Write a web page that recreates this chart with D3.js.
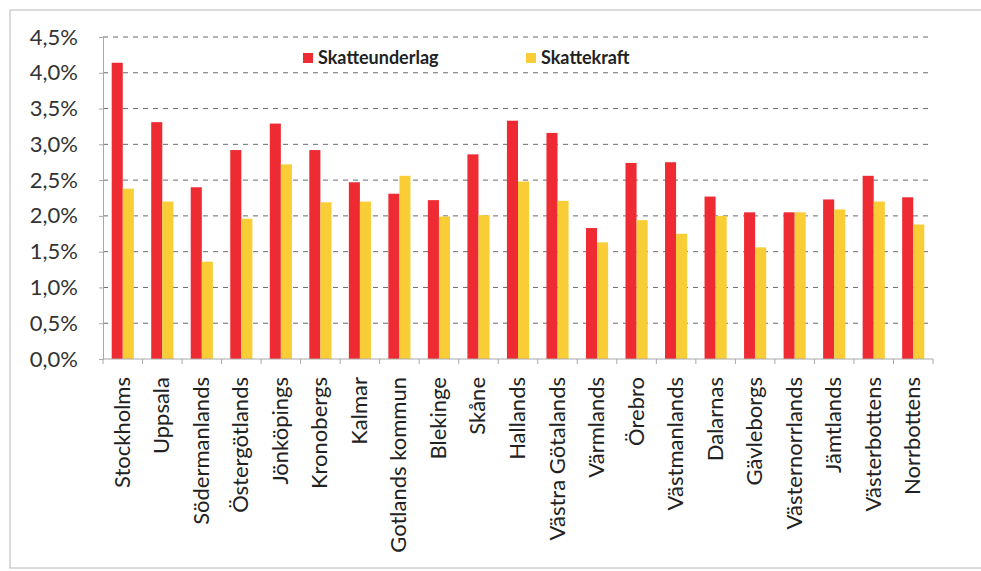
<!DOCTYPE html>
<html>
<head>
<meta charset="utf-8">
<script src="https://cdn.jsdelivr.net/npm/d3@7"></script>
<style>
  body { margin: 0; background: #fff; }
  text { font-family: Lato, "Open Sans", sans-serif; }
</style>
</head>
<body>
<div id="chart"></div>
<script>
// counties and the two series (percent)
var lan = ["Stockholms", "Uppsala", "Södermanlands", "Östergötlands", "Jönköpings",
  "Kronobergs", "Kalmar", "Gotlands kommun", "Blekinge", "Skåne", "Hallands",
  "Västra Götalands", "Värmlands", "Örebro", "Västmanlands", "Dalarnas",
  "Gävleborgs", "Västernorrlands", "Jämtlands", "Västerbottens", "Norrbottens"];
var skatteunderlag = [4.14, 3.31, 2.40, 2.92, 3.29, 2.92, 2.47, 2.31, 2.22, 2.86, 3.33,
  3.16, 1.83, 2.74, 2.75, 2.27, 2.05, 2.05, 2.23, 2.56, 2.26];
var skattekraft = [2.38, 2.20, 1.36, 1.96, 2.72, 2.19, 2.20, 2.56, 1.99, 2.01, 2.48,
  2.21, 1.63, 1.94, 1.75, 2.00, 1.56, 2.05, 2.09, 2.20, 1.88];
var seriesNames = ["Skatteunderlag", "Skattekraft"];
var yTicks = [0, 0.5, 1, 1.5, 2, 2.5, 3, 3.5, 4, 4.5];

var svgWidth = 981;
var svgHeight = 571;
var margin = { top: 37, right: 48, bottom: 212, left: 103 };
var width = svgWidth - margin.left - margin.right;
var height = svgHeight - margin.top - margin.bottom;

var colors = ["#ee2a33", "#f8cd35"];

var svg = d3.select("#chart").append("svg")
  .attr("width", svgWidth)
  .attr("height", svgHeight);

// scanned frame
svg.append("rect")
  .attr("x", 10).attr("y", 10)
  .attr("width", 975).attr("height", 558)
  .attr("fill", "none")
  .attr("stroke", "#b8b8b8")
  .attr("stroke-width", 1);

var chartGroup = svg.append("g")
  .attr("transform", `translate(${margin.left}, ${margin.top})`);

var x0 = d3.scaleBand().domain(lan).range([0, width]).paddingInner(0.44).paddingOuter(0.22);
var x1 = d3.scaleBand().domain(seriesNames).range([0, x0.bandwidth()]);
var y = d3.scaleLinear().domain([0, 4.5]).range([height, 0]);

// dashed gridlines
chartGroup.selectAll(".grid")
  .data(yTicks.filter(d => d > 0))
  .enter()
  .append("line")
  .attr("x1", 0)
  .attr("x2", width)
  .attr("y1", d => y(d))
  .attr("y2", d => y(d))
  .attr("stroke", "#6a6a70")
  .attr("stroke-width", 1)
  .attr("stroke-dasharray", "5,5");

// bars
var groups = chartGroup.selectAll(".lan")
  .data(lan)
  .enter()
  .append("g")
  .attr("transform", d => `translate(${x0(d)},0)`);

groups.selectAll("rect")
  .data((d, i) => [skatteunderlag[i], skattekraft[i]])
  .enter()
  .append("rect")
  .attr("x", (d, j) => x1(seriesNames[j]))
  .attr("y", d => y(d))
  .attr("width", x1.bandwidth())
  .attr("height", d => height - y(d))
  .attr("fill", (d, j) => colors[j]);

// y axis
var leftAxis = d3.axisLeft(y)
  .tickValues(yTicks)
  .tickSize(4)
  .tickPadding(21)
  .tickFormat(d => d3.format(".1f")(d).replace(".", ",") + "%");

var yAxis = chartGroup.append("g").call(leftAxis);
yAxis.select(".domain").attr("stroke", "#a8a8a8");
yAxis.selectAll(".tick line").attr("stroke", "#a8a8a8");
yAxis.selectAll("text")
  .attr("font-size", "22px")
  .attr("fill", "#333");

// x axis: ticks between categories
var xAxis = chartGroup.append("g")
  .attr("transform", `translate(0, ${height})`);
xAxis.append("line")
  .attr("x1", 0).attr("x2", width)
  .attr("stroke", "#a8a8a8");
var step = x0.step();
xAxis.selectAll(".xt")
  .data(d3.range(lan.length + 1))
  .enter()
  .append("line")
  .attr("x1", i => i * step)
  .attr("x2", i => i * step)
  .attr("y1", 0)
  .attr("y2", 5)
  .attr("stroke", "#a8a8a8");

xAxis.selectAll(".xlabel")
  .data(lan)
  .enter()
  .append("text")
  .attr("transform", d => `translate(${x0(d) + x0.bandwidth() / 2 + 7}, 18) rotate(-90)`)
  .attr("text-anchor", "end")
  .attr("font-size", "22px")
  .attr("fill", "#222")
  .text(d => d);

// legend
var legend = chartGroup.append("g");
var legendX = [200, 423];
seriesNames.forEach(function(name, i) {
  legend.append("rect")
    .attr("x", legendX[i])
    .attr("y", 16)
    .attr("width", 10)
    .attr("height", 10)
    .attr("fill", colors[i]);
  legend.append("text")
    .attr("x", legendX[i] + 15)
    .attr("y", 27)
    .attr("font-size", "18px")
    .attr("font-weight", "bold")
    .attr("fill", "#222")
    .text(name);
});
</script>
</body>
</html>
